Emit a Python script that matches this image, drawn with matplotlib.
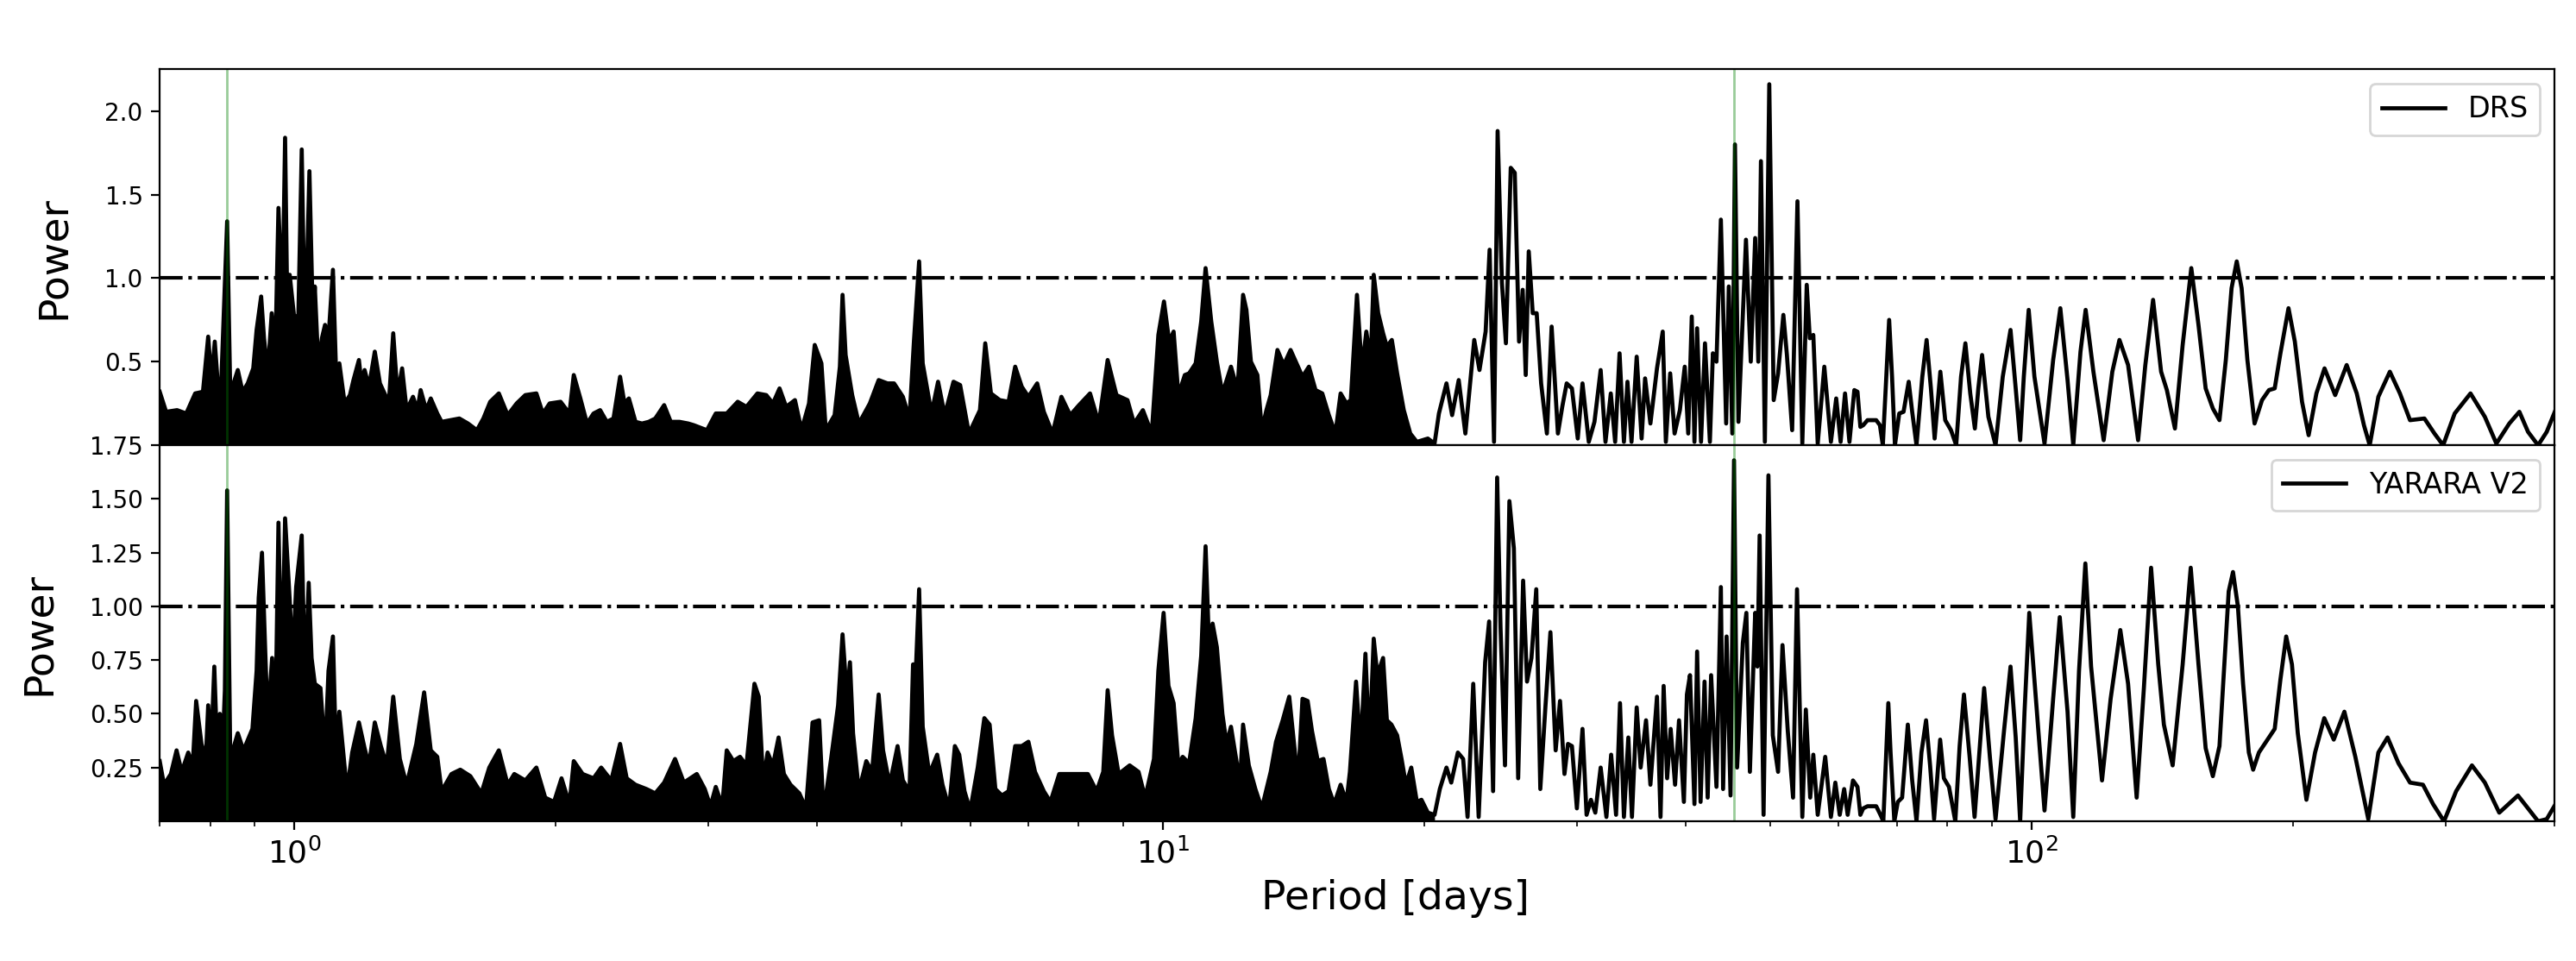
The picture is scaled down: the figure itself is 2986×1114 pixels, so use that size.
import numpy as np
import matplotlib
matplotlib.use("Agg")
import matplotlib.pyplot as plt
from matplotlib.ticker import LogLocator, NullFormatter

# (period [days], power)
# dense part: upper envelope of the unresolved forest, filled down to zero
drs_dense = [
    (0.700, 0.32), (0.712, 0.20), (0.733, 0.21), (0.751, 0.19), (0.769, 0.31), (0.785, 0.32),
    (0.796, 0.65), (0.803, 0.38), (0.810, 0.62), (0.817, 0.35), (0.824, 0.37), (0.837, 1.34),
    (0.844, 0.31), (0.861, 0.45), (0.872, 0.32), (0.884, 0.37), (0.897, 0.46), (0.905, 0.69),
    (0.916, 0.89), (0.923, 0.64), (0.932, 0.43), (0.942, 0.79), (0.951, 0.55), (0.959, 1.42),
    (0.969, 0.81), (0.976, 1.84), (0.982, 0.76), (0.988, 1.02), (1.000, 0.76), (1.011, 0.78),
    (1.020, 1.77), (1.029, 0.59), (1.041, 1.64), (1.051, 0.71), (1.056, 0.95), (1.066, 0.47),
    (1.076, 0.64), (1.085, 0.72), (1.095, 0.64), (1.108, 1.05), (1.117, 0.45), (1.127, 0.49),
    (1.143, 0.25), (1.159, 0.30), (1.170, 0.39), (1.187, 0.51), (1.195, 0.37), (1.205, 0.45),
    (1.219, 0.35), (1.238, 0.56), (1.255, 0.37), (1.273, 0.30), (1.285, 0.25), (1.300, 0.67),
    (1.315, 0.30), (1.331, 0.46), (1.347, 0.21), (1.370, 0.29), (1.386, 0.21), (1.398, 0.33),
    (1.419, 0.21), (1.436, 0.28), (1.461, 0.19), (1.478, 0.14), (1.513, 0.15), (1.549, 0.16),
    (1.585, 0.13), (1.623, 0.09), (1.651, 0.16), (1.681, 0.26), (1.720, 0.31), (1.761, 0.18),
    (1.803, 0.25), (1.845, 0.30), (1.900, 0.31), (1.933, 0.19), (1.968, 0.25), (2.026, 0.26),
    (2.074, 0.19), (2.098, 0.42), (2.135, 0.28), (2.173, 0.13), (2.211, 0.19), (2.250, 0.21),
    (2.290, 0.14), (2.331, 0.16), (2.372, 0.41), (2.400, 0.25), (2.428, 0.28), (2.471, 0.14),
    (2.514, 0.13), (2.559, 0.14), (2.604, 0.16), (2.666, 0.24), (2.713, 0.14), (2.777, 0.14),
    (2.842, 0.13), (2.884, 0.12), (2.986, 0.09), (3.057, 0.19), (3.147, 0.19), (3.240, 0.26),
    (3.316, 0.23), (3.414, 0.31), (3.495, 0.30), (3.557, 0.25), (3.620, 0.34), (3.684, 0.23),
    (3.771, 0.27), (3.837, 0.09), (3.914, 0.25), (3.974, 0.60), (4.012, 0.54), (4.045, 0.49),
    (4.092, 0.09), (4.189, 0.18), (4.248, 0.47), (4.278, 0.90), (4.313, 0.54), (4.389, 0.30),
    (4.467, 0.13), (4.599, 0.25), (4.708, 0.39), (4.819, 0.37), (4.904, 0.37), (5.020, 0.29),
    (5.109, 0.16), (5.169, 0.62), (5.241, 1.10), (5.291, 0.49), (5.416, 0.19), (5.511, 0.38),
    (5.609, 0.18), (5.741, 0.38), (5.843, 0.36), (5.981, 0.07), (6.158, 0.21), (6.245, 0.61),
    (6.340, 0.31), (6.490, 0.27), (6.643, 0.26), (6.761, 0.47), (6.880, 0.35), (7.002, 0.29),
    (7.167, 0.37), (7.294, 0.20), (7.466, 0.07), (7.642, 0.29), (7.823, 0.18), (8.008, 0.24),
    (8.245, 0.31), (8.440, 0.13), (8.639, 0.51), (8.843, 0.30), (9.105, 0.27), (9.266, 0.13),
    (9.485, 0.21), (9.710, 0.07), (9.882, 0.66), (10.03, 0.86), (10.17, 0.62), (10.29, 0.68),
    (10.42, 0.30), (10.60, 0.42), (10.72, 0.43), (10.91, 0.49), (11.07, 0.74), (11.20, 1.06),
    (11.37, 0.74), (11.54, 0.50), (11.71, 0.31), (11.98, 0.47), (12.19, 0.33), (12.37, 0.90),
    (12.48, 0.81), (12.63, 0.50), (12.85, 0.42), (13.00, 0.09), (13.16, 0.21), (13.31, 0.30),
    (13.55, 0.57), (13.78, 0.48), (14.03, 0.57), (14.48, 0.41), (14.73, 0.47), (14.99, 0.33),
    (15.26, 0.31), (15.53, 0.18), (15.80, 0.07), (16.02, 0.31), (16.27, 0.25), (16.46, 0.27),
    (16.73, 0.90), (16.95, 0.45), (17.15, 0.68), (17.35, 0.50), (17.49, 1.02), (17.70, 0.79),
    (17.93, 0.67), (18.11, 0.59), (18.35, 0.63), (18.61, 0.43), (18.94, 0.21), (19.27, 0.07),
    (19.61, 0.02), (20.19, 0.04), (20.55, 0.01),
]
# resolved part: individual oscillations
drs_sparse = [
    (20.79, 0.19), (21.21, 0.37), (21.53, 0.18), (21.91, 0.39), (22.30, 0.07), (22.83, 0.63),
    (23.15, 0.45), (23.53, 0.68), (23.78, 1.17), (24.06, 0.02), (24.29, 1.88), (24.57, 0.97),
    (24.83, 0.61), (25.15, 1.66), (25.42, 1.63), (25.71, 0.62), (25.96, 0.93), (26.17, 0.42),
    (26.38, 1.16), (26.66, 0.79), (26.94, 0.79), (27.26, 0.37), (27.68, 0.07), (28.03, 0.71),
    (28.50, 0.07), (28.83, 0.23), (29.17, 0.37), (29.58, 0.34), (30.04, 0.04), (30.42, 0.37),
    (30.93, 0.02), (31.40, 0.14), (31.92, 0.45), (32.33, 0.02), (32.79, 0.31), (33.17, 0.02),
    (33.56, 0.55), (33.95, 0.02), (34.27, 0.38), (34.64, 0.02), (35.12, 0.53), (35.58, 0.04),
    (35.91, 0.40), (36.42, 0.13), (37.06, 0.46), (37.63, 0.68), (37.94, 0.02), (38.38, 0.43),
    (38.83, 0.07), (39.38, 0.21), (39.89, 0.47), (40.26, 0.07), (40.64, 0.77), (40.93, 0.02),
    (41.22, 0.70), (41.65, 0.02), (42.09, 0.61), (42.64, 0.02), (42.98, 0.55), (43.39, 0.50),
    (43.90, 1.35), (44.52, 0.13), (44.83, 0.95), (45.25, 0.07), (45.57, 1.80), (45.99, 0.14),
    (46.92, 1.23), (47.52, 0.50), (48.08, 1.24), (48.48, 0.50), (48.82, 1.70), (49.33, 0.02),
    (49.91, 2.16), (50.50, 0.27), (51.09, 0.43), (51.81, 0.78), (52.30, 0.54), (53.03, 0.09),
    (53.78, 1.46), (54.48, 0.01), (55.12, 0.96), (55.57, 0.64), (56.09, 0.66), (56.75, 0.01),
    (57.75, 0.47), (58.77, 0.02), (59.60, 0.28), (60.30, 0.02), (61.01, 0.31), (61.73, 0.02),
    (62.53, 0.33), (63.06, 0.32), (63.54, 0.11), (64.03, 0.12), (64.76, 0.15), (65.51, 0.15),
    (66.27, 0.15), (66.92, 0.12), (67.44, 0.00), (68.06, 0.41), (68.58, 0.75), (69.11, 0.41),
    (69.64, 0.00), (70.44, 0.19), (71.25, 0.20), (72.23, 0.38), (72.90, 0.20), (73.74, 0.00),
    (74.88, 0.41), (75.74, 0.63), (76.61, 0.34), (77.37, 0.04), (78.55, 0.44), (79.57, 0.15),
    (80.80, 0.09), (81.92, 0.00), (82.98, 0.41), (83.94, 0.61), (85.03, 0.31), (86.08, 0.10),
    (86.87, 0.34), (87.74, 0.54), (89.22, 0.17), (90.93, 0.00), (92.68, 0.41), (94.61, 0.69),
    (95.92, 0.34), (97.06, 0.03), (98.00, 0.41), (99.28, 0.81), (100.80, 0.41), (103.53, 0.01),
    (105.93, 0.51), (107.96, 0.82), (110.05, 0.39), (111.73, 0.00), (113.89, 0.56), (115.46, 0.81),
    (117.86, 0.44), (121.11, 0.03), (123.92, 0.44), (126.28, 0.63), (129.21, 0.48), (132.69, 0.03),
    (135.25, 0.48), (138.06, 0.87), (141.03, 0.44), (143.20, 0.33), (146.30, 0.10), (149.32, 0.60),
    (152.78, 1.06), (155.72, 0.72), (158.71, 0.34), (161.76, 0.22), (164.63, 0.15), (167.42, 0.51),
    (169.99, 0.94), (172.34, 1.10), (174.59, 0.94), (177.28, 0.51), (180.68, 0.13), (184.28, 0.27),
    (187.70, 0.33), (190.59, 0.34), (193.50, 0.55), (197.69, 0.82), (201.04, 0.62), (204.91, 0.26),
    (208.53, 0.06), (212.86, 0.31), (217.50, 0.46), (223.72, 0.30), (230.65, 0.48), (236.89, 0.31),
    (241.44, 0.12), (245.18, 0.00), (250.85, 0.29), (258.62, 0.44), (265.62, 0.31), (272.82, 0.15),
    (283.43, 0.16), (291.10, 0.07), (297.86, 0.00), (307.13, 0.19), (320.27, 0.31), (332.69, 0.17),
    (343.00, 0.01), (354.97, 0.13), (364.59, 0.20), (373.04, 0.08), (383.12, 0.00), (391.99, 0.08),
    (402.60, 0.23),
]

yarara_dense = [
    (0.700, 0.28), (0.708, 0.17), (0.721, 0.22), (0.732, 0.33), (0.742, 0.23), (0.755, 0.32),
    (0.764, 0.26), (0.771, 0.56), (0.782, 0.36), (0.791, 0.29), (0.796, 0.54), (0.802, 0.33),
    (0.809, 0.72), (0.815, 0.34), (0.821, 0.50), (0.827, 0.34), (0.832, 0.61), (0.837, 1.54),
    (0.844, 0.29), (0.861, 0.41), (0.874, 0.33), (0.895, 0.43), (0.905, 0.70), (0.910, 1.04),
    (0.918, 1.25), (0.926, 0.79), (0.932, 0.47), (0.943, 0.76), (0.951, 0.42), (0.959, 1.39),
    (0.967, 0.65), (0.976, 1.41), (0.988, 1.03), (0.996, 0.75), (1.005, 1.09), (1.020, 1.33),
    (1.029, 0.62), (1.039, 1.11), (1.047, 0.76), (1.056, 0.64), (1.072, 0.62), (1.085, 0.31),
    (1.095, 0.70), (1.108, 0.86), (1.117, 0.31), (1.127, 0.51), (1.150, 0.14), (1.166, 0.32),
    (1.187, 0.46), (1.205, 0.34), (1.219, 0.26), (1.238, 0.46), (1.258, 0.35), (1.278, 0.26),
    (1.300, 0.58), (1.323, 0.29), (1.347, 0.17), (1.382, 0.36), (1.411, 0.60), (1.436, 0.33),
    (1.461, 0.30), (1.478, 0.14), (1.517, 0.22), (1.553, 0.24), (1.595, 0.21), (1.642, 0.13),
    (1.677, 0.25), (1.720, 0.33), (1.761, 0.17), (1.792, 0.22), (1.845, 0.19), (1.900, 0.25),
    (1.945, 0.11), (1.991, 0.09), (2.031, 0.20), (2.074, 0.08), (2.098, 0.28), (2.148, 0.22),
    (2.211, 0.20), (2.256, 0.25), (2.317, 0.19), (2.372, 0.36), (2.414, 0.20), (2.471, 0.17),
    (2.544, 0.15), (2.604, 0.13), (2.666, 0.18), (2.744, 0.29), (2.809, 0.18), (2.907, 0.22),
    (2.969, 0.15), (3.014, 0.07), (3.057, 0.16), (3.110, 0.07), (3.147, 0.33), (3.203, 0.28),
    (3.260, 0.30), (3.316, 0.26), (3.387, 0.64), (3.426, 0.58), (3.467, 0.18), (3.507, 0.32),
    (3.557, 0.26), (3.611, 0.39), (3.662, 0.22), (3.727, 0.17), (3.815, 0.13), (3.883, 0.06),
    (3.951, 0.46), (4.021, 0.47), (4.068, 0.04), (4.150, 0.29), (4.228, 0.54), (4.278, 0.87),
    (4.328, 0.58), (4.363, 0.74), (4.399, 0.41), (4.467, 0.14), (4.556, 0.28), (4.626, 0.23),
    (4.708, 0.59), (4.763, 0.33), (4.847, 0.17), (4.950, 0.35), (5.020, 0.19), (5.109, 0.14),
    (5.157, 0.73), (5.199, 0.73), (5.241, 1.08), (5.291, 0.44), (5.384, 0.22), (5.498, 0.31),
    (5.576, 0.17), (5.675, 0.06), (5.762, 0.35), (5.829, 0.31), (5.911, 0.14), (6.001, 0.05),
    (6.122, 0.25), (6.230, 0.48), (6.318, 0.45), (6.415, 0.15), (6.528, 0.12), (6.643, 0.14),
    (6.761, 0.35), (6.880, 0.35), (7.002, 0.37), (7.126, 0.23), (7.294, 0.14), (7.423, 0.09),
    (7.598, 0.22), (7.823, 0.22), (8.008, 0.22), (8.197, 0.22), (8.390, 0.14), (8.539, 0.23),
    (8.639, 0.61), (8.740, 0.40), (8.895, 0.22), (9.158, 0.26), (9.376, 0.23), (9.542, 0.11),
    (9.767, 0.29), (9.882, 0.70), (10.02, 0.97), (10.15, 0.63), (10.29, 0.55), (10.42, 0.26),
    (10.54, 0.30), (10.72, 0.27), (10.91, 0.48), (11.07, 0.77), (11.20, 1.28), (11.30, 0.83),
    (11.41, 0.92), (11.54, 0.81), (11.71, 0.50), (11.84, 0.36), (11.98, 0.44), (12.10, 0.33),
    (12.27, 0.18), (12.37, 0.45), (12.56, 0.26), (12.78, 0.15), (13.00, 0.06), (13.31, 0.23),
    (13.50, 0.37), (13.74, 0.47), (13.98, 0.58), (14.31, 0.18), (14.48, 0.57), (14.68, 0.56),
    (14.85, 0.42), (15.08, 0.28), (15.31, 0.29), (15.53, 0.15), (15.75, 0.08), (16.02, 0.17),
    (16.27, 0.09), (16.42, 0.23), (16.69, 0.65), (16.89, 0.33), (17.11, 0.78), (17.29, 0.34),
    (17.49, 0.85), (17.66, 0.68), (17.93, 0.76), (18.11, 0.47), (18.33, 0.45), (18.61, 0.40),
    (18.83, 0.29), (19.05, 0.17), (19.32, 0.25), (19.61, 0.09), (19.85, 0.10), (20.19, 0.04),
    (20.55, 0.03),
]
yarara_sparse = [
    (20.84, 0.15), (21.21, 0.25), (21.48, 0.18), (21.86, 0.32), (22.17, 0.29), (22.43, 0.02),
    (22.77, 0.64), (23.10, 0.02), (23.50, 0.74), (23.75, 0.93), (24.00, 0.14), (24.26, 1.60),
    (24.48, 0.90), (24.77, 0.26), (25.06, 1.49), (25.36, 1.27), (25.65, 0.20), (25.99, 1.12),
    (26.26, 0.65), (26.57, 0.76), (26.91, 1.08), (27.20, 0.15), (27.58, 0.54), (27.94, 0.88),
    (28.33, 0.33), (28.66, 0.56), (29.00, 0.22), (29.27, 0.36), (29.58, 0.35), (29.97, 0.06),
    (30.42, 0.43), (30.75, 0.03), (31.11, 0.10), (31.47, 0.04), (31.92, 0.25), (32.41, 0.02),
    (32.82, 0.31), (33.25, 0.03), (33.60, 0.55), (33.95, 0.02), (34.35, 0.39), (34.68, 0.02),
    (35.12, 0.53), (35.49, 0.25), (36.00, 0.47), (36.42, 0.17), (37.06, 0.58), (37.41, 0.02),
    (37.72, 0.63), (38.07, 0.20), (38.43, 0.43), (38.88, 0.17), (39.29, 0.47), (39.80, 0.09),
    (40.12, 0.59), (40.45, 0.68), (40.93, 0.08), (41.22, 0.79), (41.60, 0.09), (42.04, 0.65),
    (42.39, 0.11), (42.78, 0.68), (43.39, 0.16), (43.90, 1.09), (44.16, 0.15), (44.57, 0.86),
    (45.04, 0.12), (45.46, 1.68), (45.83, 0.25), (46.53, 0.83), (46.97, 0.97), (47.41, 0.23),
    (48.08, 0.97), (48.36, 0.72), (48.65, 1.33), (49.16, 0.03), (49.80, 1.61), (50.38, 0.40),
    (51.09, 0.23), (51.69, 0.82), (52.42, 0.42), (53.16, 0.11), (53.72, 1.08), (54.48, 0.02),
    (54.99, 0.52), (55.63, 0.11), (56.09, 0.31), (56.75, 0.03), (57.89, 0.30), (58.77, 0.02),
    (59.46, 0.18), (60.16, 0.03), (60.87, 0.15), (61.44, 0.03), (62.31, 0.19), (63.06, 0.16),
    (63.54, 0.03), (64.03, 0.06), (64.76, 0.07), (65.51, 0.07), (66.27, 0.07), (67.02, 0.03),
    (67.53, 0.00), (68.06, 0.32), (68.43, 0.55), (68.84, 0.32), (69.53, 0.00), (70.17, 0.09),
    (70.98, 0.11), (72.06, 0.45), (72.90, 0.19), (73.74, 0.00), (74.71, 0.32), (75.63, 0.47),
    (76.44, 0.26), (77.26, 0.01), (78.51, 0.38), (79.29, 0.20), (80.37, 0.16), (81.73, 0.00),
    (82.67, 0.35), (83.62, 0.59), (84.89, 0.30), (86.01, 0.02), (87.21, 0.35), (88.22, 0.62),
    (89.57, 0.30), (90.93, 0.01), (93.04, 0.43), (94.61, 0.72), (95.92, 0.39), (97.06, 0.00),
    (98.19, 0.51), (99.43, 0.97), (101.19, 0.57), (103.53, 0.05), (105.93, 0.57), (107.80, 0.95),
    (110.05, 0.51), (111.73, 0.02), (113.45, 0.70), (115.37, 1.20), (117.14, 0.72), (120.58, 0.19),
    (123.37, 0.57), (126.57, 0.89), (129.21, 0.64), (132.18, 0.11), (134.73, 0.62), (137.33, 1.18),
    (139.96, 0.73), (142.07, 0.45), (145.41, 0.26), (149.32, 0.73), (152.55, 1.18), (155.72, 0.73),
    (158.71, 0.34), (161.76, 0.21), (164.63, 0.35), (166.78, 0.73), (168.70, 1.07), (170.64, 1.16),
    (172.87, 1.00), (175.26, 0.64), (177.95, 0.32), (180.00, 0.24), (182.77, 0.32), (187.70, 0.39),
    (190.59, 0.43), (193.50, 0.66), (196.48, 0.86), (199.50, 0.73), (202.61, 0.41), (207.30, 0.10),
    (212.11, 0.32), (217.33, 0.48), (222.88, 0.38), (229.25, 0.51), (236.01, 0.30), (244.25, 0.01),
    (250.85, 0.32), (257.05, 0.39), (264.61, 0.27), (272.82, 0.18), (282.35, 0.17), (290.00, 0.08),
    (298.55, 0.00), (308.31, 0.14), (321.50, 0.26), (332.69, 0.18), (345.62, 0.04), (363.20, 0.12),
    (373.04, 0.06), (383.12, 0.00), (391.99, 0.01), (402.60, 0.09),
]

marked_periods = [0.837, 45.5]
threshold = 1.0
labels = ["DRS", "YARARA V2"]
ylims = [(0.0, 2.25), (0.0, 1.75)]
yticks = [[0.5, 1.0, 1.5, 2.0], [0.25, 0.50, 0.75, 1.00, 1.25, 1.50, 1.75]]

fig, axes = plt.subplots(2, 1, sharex=True, figsize=(14.93, 5.57), dpi=200)
fig.subplots_adjust(left=0.062, right=0.9916, top=0.928, bottom=0.1454, hspace=0)

series = [(drs_dense, drs_sparse), (yarara_dense, yarara_sparse)]
for i, ax in enumerate(axes):
    dense = np.array(series[i][0])
    sparse = np.array(series[i][1])
    ax.fill_between(dense[:, 0], 0, dense[:, 1], color="k", lw=0)
    per = np.concatenate([dense[:, 0], sparse[:, 0]])
    pw = np.concatenate([dense[:, 1], sparse[:, 1]])
    ax.plot(per, pw, color="k", lw=1.7, label=labels[i])
    ax.axhline(threshold, color="k", lw=1.5, ls="-.")
    for p in marked_periods:
        ax.axvline(p, color="green", alpha=0.4, lw=1.0)
    ax.set_xscale("log")
    ax.set_xlim(0.7, 400)
    ax.set_ylim(*ylims[i])
    ax.set_yticks(yticks[i])
    ax.tick_params(axis="y", labelsize=10)
    ax.tick_params(axis="x", labelsize=13)
    ax.set_ylabel("Power", fontsize=17, labelpad=13)
    ax.legend(loc="upper right", fontsize=12, handlelength=2.2)

axes[1].xaxis.set_major_locator(LogLocator(base=10))
axes[1].xaxis.set_minor_locator(LogLocator(base=10, subs=np.arange(2, 10)))
axes[1].xaxis.set_minor_formatter(NullFormatter())
axes[1].set_xlabel("Period [days]", fontsize=17)
axes[1].xaxis.label.set_x(0.516)

fig.savefig("out.png", dpi=200)
